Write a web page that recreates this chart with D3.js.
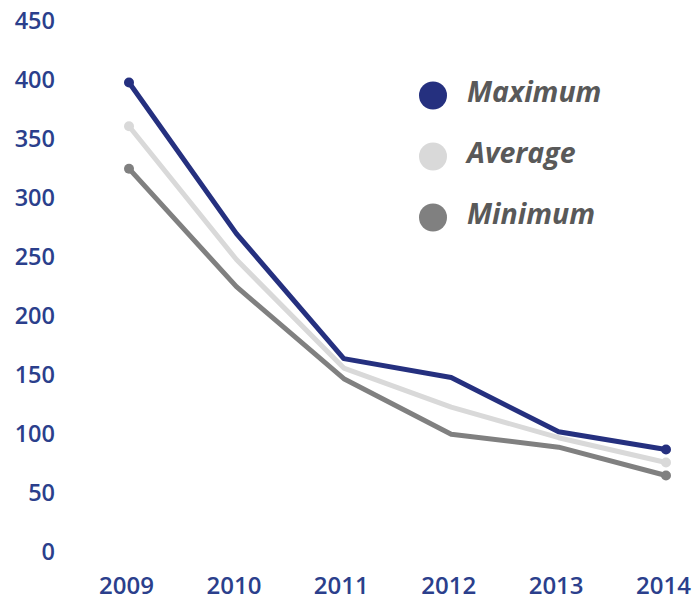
<!DOCTYPE html>
<html>
<head>
<meta charset="utf-8">
<script src="https://cdn.jsdelivr.net/npm/d3@7"></script>
<style>
html,body{margin:0;padding:0;background:#fff;}
svg{display:block;font-family:"Open Sans",sans-serif;}
</style>
</head>
<body>
<svg id="chart" width="692" height="600"></svg>
<script>
const years = ["2009","2010","2011","2012","2013","2014"];
const maximum = [397, 269, 163, 147, 101, 86];
const average = [360, 247, 155, 122, 96, 75];
const minimum = [324, 224, 146, 99, 88, 64];
const yTicks = [0,50,100,150,200,250,300,350,400,450];
const seriesNames = ["Maximum","Average","Minimum"];
const seriesColors = ["#25307f","#d9d9d9","#808080"];

const series = [
  {name: seriesNames[0], values: maximum, color: seriesColors[0]},
  {name: seriesNames[1], values: average, color: seriesColors[1]},
  {name: seriesNames[2], values: minimum, color: seriesColors[2]}
];

const svg = d3.select("#chart");
const x = d3.scalePoint().domain(years).range([129, 666]);
const y = d3.scaleLinear().domain([0, 450]).range([551, 20]);

const axisColor = "#2b3f8c";

const yAxis = svg.append("g").attr("transform","translate(55,0)")
  .call(d3.axisLeft(y).tickValues(yTicks).tickSize(0).tickPadding(0));
yAxis.select(".domain").remove();
yAxis.selectAll("text").attr("fill", axisColor).attr("font-size", 23.5).attr("font-weight", 600)
  .attr("font-family", '"Open Sans", sans-serif').attr("dy", "0.34em");

const xAxis = svg.append("g").attr("transform","translate(-3,594)")
  .call(d3.axisBottom(x).tickSize(0).tickPadding(0));
xAxis.select(".domain").remove();
xAxis.selectAll("text").attr("fill", axisColor).attr("font-size", 24).attr("font-weight", 600)
  .attr("font-family", '"Open Sans", sans-serif').attr("y", 0).attr("dy", "0");

const line = d3.line().x((d,i)=>x(years[i])).y(d=>y(d));

// draw in order: minimum, average, maximum on top
[series[2], series[1], series[0]].forEach(s => {
  svg.append("path").attr("d", line(s.values)).attr("fill","none")
    .attr("stroke", s.color).attr("stroke-width", 5).attr("stroke-linejoin","round");
  const ends = [0, s.values.length-1];
  svg.selectAll(null).data(ends).enter().append("circle")
    .attr("cx", i => x(years[i])).attr("cy", i => y(s.values[i])).attr("r", 5)
    .attr("fill", s.color);
});

const legend = svg.append("g");
series.forEach((s, i) => {
  const ly = 95.5 + i * 61;
  legend.append("circle").attr("cx", 433).attr("cy", ly).attr("r", 14).attr("fill", s.color);
  legend.append("text").attr("x", 467).attr("y", ly + 6.5)
    .attr("font-size", 28.5).attr("font-weight", 700).attr("font-style", "italic")
    .attr("fill", "#595959").text(s.name);
});
</script>
</body>
</html>
